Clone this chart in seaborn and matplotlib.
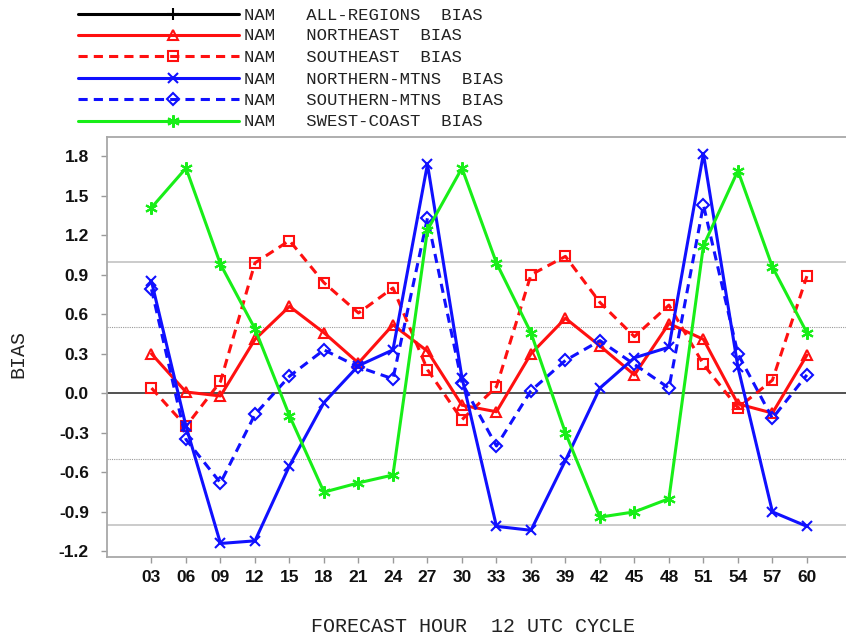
import matplotlib
matplotlib.use("Agg")
import matplotlib.pyplot as plt
from matplotlib.lines import Line2D
from matplotlib.ticker import FormatStrFormatter
import seaborn as sns
import pandas as pd

# ---------------- data ----------------
hours = [3, 6, 9, 12, 15, 18, 21, 24, 27, 30, 33, 36, 39, 42, 45, 48, 51, 54, 57, 60]
hour_labels = ["03", "06", "09", "12", "15", "18", "21", "24", "27", "30",
               "33", "36", "39", "42", "45", "48", "51", "54", "57", "60"]
northeast = [0.30, 0.01, -0.02, 0.41, 0.66, 0.46, 0.23, 0.52, 0.32, -0.09,
             -0.14, 0.30, 0.57, 0.36, 0.14, 0.53, 0.41, -0.08, -0.15, 0.29]
southeast = [0.04, -0.25, 0.09, 0.99, 1.16, 0.84, 0.61, 0.80, 0.18, -0.20,
             0.05, 0.90, 1.04, 0.69, 0.43, 0.67, 0.22, -0.11, 0.10, 0.89]
northern_mtns = [0.85, -0.25, -1.14, -1.12, -0.55, -0.07, 0.21, 0.33, 1.74, 0.12,
                 -1.01, -1.04, -0.51, 0.04, 0.27, 0.35, 1.82, 0.20, -0.90, -1.01]
southern_mtns = [0.79, -0.35, -0.68, -0.16, 0.13, 0.33, 0.20, 0.11, 1.33, 0.08,
                 -0.40, 0.02, 0.25, 0.40, 0.22, 0.04, 1.43, 0.30, -0.19, 0.14]
swest_coast = [1.41, 1.71, 0.98, 0.49, -0.17, -0.75, -0.68, -0.62, 1.24, 1.71,
               0.99, 0.46, -0.30, -0.94, -0.90, -0.80, 1.12, 1.69, 0.96, 0.46]
legend_labels = ["NAM   ALL-REGIONS  BIAS", "NAM   NORTHEAST  BIAS", "NAM   SOUTHEAST  BIAS",
                 "NAM   NORTHERN-MTNS  BIAS", "NAM   SOUTHERN-MTNS  BIAS", "NAM   SWEST-COAST  BIAS"]
y_ticks = [-1.2, -0.9, -0.6, -0.3, 0.0, 0.3, 0.6, 0.9, 1.2, 1.5, 1.8]
ref_solid = [-1.0, 1.0]
ref_dotted = [-0.5, 0.5]
x_label = "FORECAST HOUR  12 UTC CYCLE"
y_label = "BIAS"

# ---------------- styles ----------------
RED = "#ff1010"
BLUE = "#1010ff"
GREEN = "#18ee18"
DASH = (0, (3, 2))
series = [
    ("NORTHEAST", northeast, RED, "-", "^", 7.5),
    ("SOUTHEAST", southeast, RED, DASH, "s", 7.5),
    ("NORTHERN-MTNS", northern_mtns, BLUE, "-", "x", 6.5),
    ("SOUTHERN-MTNS", southern_mtns, BLUE, DASH, "D", 5.8),
    ("SWEST-COAST", swest_coast, GREEN, "-", (6, 2, 0), 9),
]
legend_styles = [("black", "-", "+", 9)] + [(c, ls, m, ms) for _, _, c, ls, m, ms in series]

sns.set_style("white")
plt.rcParams["axes.unicode_minus"] = False

W, H = 846, 635
fig = plt.figure(figsize=(W / 100, H / 100), dpi=100)
ax_left, ax_right, ax_top, ax_bot = 107, 846, 137.3, 557.3
ax = fig.add_axes([ax_left / W, 1 - ax_bot / H, (ax_right - ax_left) / W, (ax_bot - ax_top) / H])

rows = []
for name, vals, *_ in series:
    for h, v in zip(hours, vals):
        rows.append({"region": name, "hour": h, "bias": v})
df = pd.DataFrame(rows)

# reference lines
for y in ref_solid:
    ax.axhline(y, color="#bdbdbd", lw=1.1, zorder=1)
for y in ref_dotted:
    ax.axhline(y, color="#9a9a9a", lw=0.8, ls=(0, (1, 1)), zorder=1)
ax.axhline(0.0, color="#222222", lw=1.1, zorder=1)

for name, vals, color, ls, marker, ms in series:
    sub = df[df["region"] == name]
    sns.lineplot(data=sub, x="hour", y="bias", ax=ax, color=color, linestyle=ls,
                 lw=2.2, marker=marker, markersize=ms, markerfacecolor="none",
                 markeredgecolor=color, markeredgewidth=1.5, errorbar=None,
                 sort=False, legend=False, zorder=3)

ax.set_xlim(-0.87, 63.4)
ax.set_ylim(-1.245, 1.944)
ax.set_xticks(hours)
ax.set_xticklabels(hour_labels)
ax.set_yticks(y_ticks)
ax.yaxis.set_major_formatter(FormatStrFormatter("%.1f"))
for lab in ax.get_xticklabels() + ax.get_yticklabels():
    lab.set_fontfamily("Liberation Sans")
    lab.set_fontweight("bold")
    lab.set_fontsize(12.5)
    lab.set_color("#111111")
ax.tick_params(axis="x", direction="out", length=4.5, width=1.0, color="#9a9a9a", pad=4.5)
ax.tick_params(axis="y", direction="out", length=4.5, width=1.0, color="#9a9a9a", pad=8.5)
ax.tick_params(bottom=True, left=True)

for s in ["left", "top", "bottom"]:
    ax.spines[s].set_color("#a8a8a8")
    ax.spines[s].set_linewidth(1.3)
ax.spines["right"].set_visible(False)

ax.set_xlabel(x_label, fontfamily="Liberation Mono", fontsize=14.4, color="#222222", va="center")
ax.xaxis.set_label_coords((473 - ax_left) / (ax_right - ax_left), (ax_bot - 626) / (ax_bot - ax_top))
ax.set_ylabel(y_label, fontfamily="Liberation Mono", fontsize=14.4, color="#222222", va="center")
ax.yaxis.set_label_coords((17.5 - ax_left) / (ax_right - ax_left), (ax_bot - 354) / (ax_bot - ax_top))

# custom legend at the top
row_y = [14, 34.7, 56, 78, 99.3, 120.7]
for (color, ls, marker, ms), label, yy in zip(legend_styles, legend_labels, row_y):
    line = Line2D([78 / W, 173.3 / W, 238.7 / W], [1 - yy / H] * 3, transform=fig.transFigure,
                  color=color, linestyle=ls, lw=2.2, marker=marker, markersize=ms,
                  markevery=[1], markerfacecolor="none", markeredgecolor=color,
                  markeredgewidth=1.5)
    fig.add_artist(line)
    fig.text(244.3 / W, 1 - (yy + 5.5) / H, label, fontfamily="Liberation Mono",
             fontsize=12.4, color="#222222", ha="left", va="baseline")

fig.savefig("out.png", dpi=100)
